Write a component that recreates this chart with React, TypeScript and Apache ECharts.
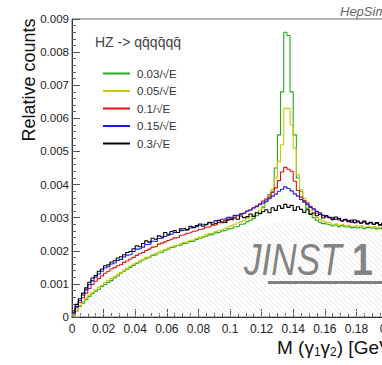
import React, { useEffect, useRef } from "react";
import * as echarts from "echarts";

// Histogram binning (GeV)
const BIN_WIDTH = 0.002;
const X_MIN = 0;
const X_MAX = 0.2;
const X_INTERVAL = 0.02;
const Y_MIN = 0;
const Y_MAX = 0.009;
const Y_INTERVAL = 0.001;

const SERIES_NAMES = ["0.03/√E", "0.05/√E", "0.1/√E", "0.15/√E", "0.3/√E"];
const SERIES_COLORS = ["#22a722", "#c8c800", "#dd1111", "#1c1ce0", "#000000"];
const HEADER = "HZ -> qq\u0304qq\u0304qq\u0304";

// bin contents, in units of 1e-3 (relative counts)
const res003 = [
  0.05, 0.18, 0.32, 0.42, 0.52, 0.62, 0.7, 0.78, 0.84, 0.92,
  0.98, 1.04, 1.1, 1.18, 1.24, 1.32, 1.38, 1.44, 1.5, 1.56,
  1.62, 1.66, 1.72, 1.76, 1.8, 1.86, 1.88, 1.94, 1.96, 2.02,
  2.05, 2.1, 2.12, 2.16, 2.18, 2.22, 2.24, 2.28, 2.3, 2.34,
  2.38, 2.41, 2.44, 2.48, 2.5, 2.54, 2.56, 2.6, 2.62, 2.66,
  2.68, 2.72, 2.74, 2.8, 2.82, 2.88, 2.92, 2.98, 3.06, 3.14,
  3.3, 3.48, 3.7, 3.8, 4.5, 5.5, 6.8, 8.6, 8.5, 6.8,
  5.5, 4.2, 3.8, 3.5, 3.28, 3.12, 3.0, 2.92, 2.86, 2.82,
  2.8, 2.78, 2.75, 2.78, 2.73, 2.76, 2.72, 2.74, 2.7, 2.72,
  2.69, 2.72, 2.67, 2.7, 2.68, 2.7, 2.66, 2.68, 2.65, 2.64,
];
const res005 = [
  0.06, 0.2, 0.34, 0.46, 0.56, 0.66, 0.74, 0.82, 0.9, 0.96,
  1.04, 1.1, 1.16, 1.22, 1.3, 1.34, 1.42, 1.48, 1.54, 1.6,
  1.64, 1.7, 1.74, 1.8, 1.82, 1.88, 1.92, 1.96, 2.0, 2.04,
  2.08, 2.12, 2.16, 2.18, 2.22, 2.26, 2.28, 2.32, 2.34, 2.38,
  2.42, 2.44, 2.48, 2.52, 2.54, 2.58, 2.62, 2.64, 2.68, 2.72,
  2.76, 2.8, 2.84, 2.88, 2.92, 2.98, 3.02, 3.08, 3.16, 3.24,
  3.34, 3.48, 3.66, 3.86, 4.2, 4.7, 5.2, 6.3, 6.3, 5.8,
  5.1, 4.3, 3.86, 3.58, 3.36, 3.2, 3.08, 3.0, 2.94, 2.9,
  2.86, 2.84, 2.8, 2.82, 2.78, 2.8, 2.76, 2.78, 2.74, 2.76,
  2.74, 2.76, 2.72, 2.74, 2.72, 2.74, 2.7, 2.72, 2.7, 2.68,
];
const res01 = [
  0.1, 0.28, 0.44, 0.58, 0.72, 0.86, 0.98, 1.08, 1.16, 1.24,
  1.32, 1.38, 1.45, 1.49, 1.55, 1.58, 1.65, 1.69, 1.75, 1.8,
  1.86, 1.91, 1.95, 2.01, 2.05, 2.11, 2.13, 2.2, 2.23, 2.27,
  2.31, 2.35, 2.39, 2.41, 2.47, 2.49, 2.53, 2.55, 2.59, 2.61,
  2.65, 2.67, 2.71, 2.73, 2.77, 2.79, 2.85, 2.85, 2.91, 2.93,
  2.98, 3.02, 3.06, 3.1, 3.14, 3.2, 3.24, 3.3, 3.36, 3.42,
  3.5, 3.56, 3.62, 3.76, 3.9, 4.12, 4.38, 4.52, 4.46, 4.4,
  4.1, 3.82, 3.62, 3.52, 3.45, 3.34, 3.24, 3.14, 3.1, 3.06,
  3.02, 3.0, 2.96, 2.94, 2.92, 2.9, 2.93, 2.87, 2.9, 2.85,
  2.89, 2.84, 2.87, 2.81, 2.85, 2.8, 2.83, 2.78, 2.81, 2.78,
];
const res015 = [
  0.12, 0.32, 0.5, 0.66, 0.82, 0.98, 1.1, 1.2, 1.3, 1.38,
  1.48, 1.52, 1.6, 1.63, 1.71, 1.74, 1.81, 1.87, 1.89, 1.98,
  2.05, 2.07, 2.11, 2.19, 2.2, 2.29, 2.28, 2.37, 2.39, 2.43,
  2.47, 2.5, 2.55, 2.55, 2.61, 2.63, 2.65, 2.69, 2.72, 2.73,
  2.77, 2.8, 2.81, 2.85, 2.87, 2.91, 2.91, 2.95, 2.97, 3.01,
  3.02, 3.07, 3.08, 3.12, 3.14, 3.2, 3.23, 3.29, 3.33, 3.39,
  3.44, 3.5, 3.57, 3.65, 3.71, 3.8, 3.86, 3.93, 3.88, 3.81,
  3.72, 3.65, 3.55, 3.47, 3.4, 3.31, 3.27, 3.19, 3.15, 3.07,
  3.06, 3.01, 3.0, 2.95, 2.98, 2.91, 2.94, 2.89, 2.93, 2.85,
  2.9, 2.83, 2.87, 2.81, 2.85, 2.8, 2.83, 2.77, 2.81, 2.76,
];
const res03 = [
  0.15, 0.38, 0.55, 0.72, 0.88, 1.05, 1.18, 1.25, 1.38, 1.45,
  1.55, 1.58, 1.66, 1.7, 1.78, 1.82, 1.88, 1.95, 1.98, 2.06,
  2.15, 2.12, 2.22, 2.3, 2.26, 2.38, 2.35, 2.45, 2.42, 2.55,
  2.5, 2.58, 2.61, 2.55, 2.66, 2.68, 2.63, 2.74, 2.7, 2.76,
  2.81, 2.74, 2.79, 2.86, 2.8, 2.83, 2.92, 2.87, 2.85, 2.95,
  2.93, 2.99, 2.95, 3.05, 3.0, 3.03, 3.11, 3.04, 3.15, 3.12,
  3.18, 3.24, 3.15, 3.3, 3.22, 3.36, 3.28, 3.4, 3.31, 3.37,
  3.22, 3.33, 3.25, 3.16, 3.24, 3.1, 3.14, 3.06, 3.1, 2.99,
  3.05, 3.0, 2.94, 3.02, 2.97, 2.9, 2.95, 2.91, 2.86, 2.93,
  2.87, 2.84, 2.9, 2.82, 2.86, 2.8, 2.85, 2.79, 2.83, 2.78,
];
const SERIES_VALUES = [res003, res005, res01, res015, res03];

// hatched background shape (units of 1e-3)
const HATCH_X = [0, 0.01, 0.02, 0.03, 0.04, 0.05, 0.06, 0.07, 0.08, 0.09, 0.1, 0.11, 0.12, 0.13, 0.14, 0.15, 0.16, 0.17, 0.18, 0.19, 0.2];
const HATCH_Y = [0, 0.5, 0.84, 1.18, 1.46, 1.68, 1.88, 2.04, 2.18, 2.32, 2.46, 2.6, 2.76, 2.9, 2.9, 2.78, 2.68, 2.62, 2.58, 2.56, 2.54];

const FONT = "'Liberation Sans', Arial, sans-serif";
const CHART_W = 430;
const CHART_H = 365;

function stepData(vals: number[]) {
  const pts: number[][] = vals.map((v, i) => [i * BIN_WIDTH, v / 1000]);
  pts.push([vals.length * BIN_WIDTH, vals[vals.length - 1] / 1000]);
  return pts;
}

function hatchPattern() {
  const c = document.createElement("canvas");
  c.width = 5;
  c.height = 5;
  const ctx = c.getContext("2d");
  if (ctx) {
    ctx.strokeStyle = "#e2e2e2";
    ctx.lineWidth = 0.8;
    ctx.beginPath();
    ctx.moveTo(-1, -1); ctx.lineTo(6, 6);
    ctx.moveTo(4, -1); ctx.lineTo(6, 1);
    ctx.moveTo(-1, 4); ctx.lineTo(1, 6);
    ctx.stroke();
  }
  return c;
}

function fmt(v: number) {
  if (Math.abs(v) < 1e-12) return "0";
  return String(parseFloat(v.toFixed(4)));
}

export default function App() {
  const ref = useRef<HTMLDivElement>(null);
  useEffect(() => {
    if (!ref.current) return;
    const chart = echarts.init(ref.current, null, { renderer: "svg" });
    const gridLeft = 72;
    const gridTop = 19;
    const gridRightPx = 388;
    const gridBottomPx = 317;

    const series: any[] = [
      {
        type: "line",
        name: "hatch",
        data: HATCH_X.map((x, i) => [x, HATCH_Y[i] / 1000]),
        smooth: 0.3,
        showSymbol: false,
        silent: true,
        lineStyle: { width: 0, opacity: 0 },
        areaStyle: {
          color: { image: hatchPattern(), repeat: "repeat", imageWidth: 5, imageHeight: 5 },
          opacity: 1,
        },
        z: 1,
      },
    ];
    SERIES_VALUES.forEach((vals, k) => {
      series.push({
        type: "line",
        name: SERIES_NAMES[k],
        data: stepData(vals),
        step: "end",
        showSymbol: false,
        symbol: "none",
        color: SERIES_COLORS[k],
        lineStyle: { width: 1.1, color: SERIES_COLORS[k] },
        z: 2 + k,
      });
    });

    const option: any = {
      animation: false,
      backgroundColor: "#ffffff",
      grid: {
        left: gridLeft,
        top: gridTop,
        right: CHART_W - gridRightPx,
        bottom: CHART_H - gridBottomPx,
        show: true,
        borderColor: "#666",
        borderWidth: 1,
        backgroundColor: "transparent",
      },
      legend: {
        data: SERIES_NAMES,
        orient: "vertical",
        left: 98,
        top: 62,
        itemWidth: 27,
        itemHeight: 2,
        itemGap: 4.5,
        icon: "rect",
        selectedMode: false,
        textStyle: { fontSize: 11.5, color: "#333", fontFamily: FONT, lineHeight: 13, padding: [0, 0, 0, 2] },
      },
      xAxis: {
        type: "value",
        min: X_MIN,
        max: X_MAX,
        interval: X_INTERVAL,
        axisLine: { show: true, lineStyle: { color: "#333", width: 1 } },
        axisTick: { show: true, inside: true, length: 8, lineStyle: { color: "#555" } },
        minorTick: { show: true, splitNumber: 4, length: 4, lineStyle: { color: "#666" } },
        splitLine: { show: false },
        axisLabel: { fontSize: 12, color: "#222", fontFamily: FONT, margin: 6, formatter: fmt, showMaxLabel: true, showMinLabel: true },
      },
      yAxis: {
        type: "value",
        min: Y_MIN,
        max: Y_MAX,
        interval: Y_INTERVAL,
        axisLine: { show: true, lineStyle: { color: "#333", width: 1 } },
        axisTick: { show: true, inside: true, length: 8, lineStyle: { color: "#555" } },
        minorTick: { show: true, splitNumber: 5, length: 4, lineStyle: { color: "#666" } },
        splitLine: { show: false },
        axisLabel: { fontSize: 11.5, color: "#222", fontFamily: FONT, margin: 3, formatter: fmt },
      },
      graphic: [
        {
          type: "text",
          x: 29,
          y: 80,
          rotation: Math.PI / 2,
          style: { text: "Relative counts", font: `18px ${FONT}`, fill: "#111", align: "center", verticalAlign: "middle" },
        },
        {
          type: "text",
          x: 277,
          y: 338,
          style: {
            text: "{m|M (γ}{s|1}{m|γ}{s|2}{m|) [GeV]}",
            rich: {
              m: { fontSize: 19, fontFamily: FONT, fill: "#111", lineHeight: 20, verticalAlign: "top" },
              s: { fontSize: 12, fontFamily: FONT, fill: "#111", lineHeight: 12, verticalAlign: "bottom" },
            },
            verticalAlign: "top",
          },
        },
        {
          type: "text",
          x: 95,
          y: 42,
          style: { text: HEADER, font: `14px ${FONT}`, fill: "#444", verticalAlign: "middle" },
        },
        {
          type: "text",
          x: 340,
          y: 5,
          style: { text: "HepSim", font: `italic 13px ${FONT}`, fill: "#666", verticalAlign: "top" },
        },
        {
          type: "text",
          x: 244,
          y: 260,
          scaleX: 0.8,
          style: { text: "JINST", font: `italic 44px ${FONT}`, fill: "rgba(115,115,115,0.9)", verticalAlign: "middle" },
          z: 10,
        },
        {
          type: "text",
          x: 352,
          y: 260,
          scaleX: 0.85,
          style: { text: "1", font: `bold 44px ${FONT}`, fill: "rgba(115,115,115,0.9)", verticalAlign: "middle" },
          z: 10,
        },
        {
          type: "rect",
          shape: { x: 268, y: 281, width: 200, height: 3 },
          style: { fill: "rgba(115,115,115,0.9)" },
          z: 10,
        },
      ],
      series,
    };
    chart.setOption(option);
    return () => chart.dispose();
  }, []);

  return (
    <div style={{ position: "fixed", left: 0, top: 0, width: 382, height: 365, overflow: "hidden", background: "#fff" }}>
      <div ref={ref} style={{ width: CHART_W, height: CHART_H }} />
    </div>
  );
}
